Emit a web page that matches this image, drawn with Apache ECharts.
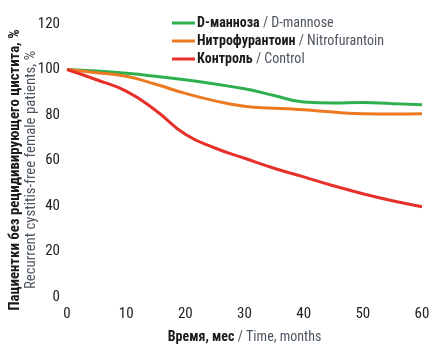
<!DOCTYPE html>
<html><head><meta charset="utf-8">
<script src="https://cdn.jsdelivr.net/npm/echarts@6/dist/echarts.min.js"></script>
<style>html,body{margin:0;padding:0;background:#fff}#c{width:436px;height:349px}</style>
</head><body><div id="c"></div>
<script>
var months = [0, 5, 10, 15, 20, 25, 30, 35, 40, 45, 50, 55, 60];
var dMannose = [100, 99.3, 98.3, 97, 95.5, 93.6, 91.5, 88.6, 85.7, 85.3, 85.5, 85.0, 84.5];
var nitrofurantoin = [100, 98.6, 97, 93.5, 89.5, 86.2, 83.8, 83.0, 82.3, 81.3, 80.5, 80.4, 80.5];
var control = [100, 95.5, 90.5, 82, 71.5, 65.5, 61, 56.6, 52.8, 48.9, 45.4, 42.3, 39.7];
var seriesNames = [
  ['D-манноза', 'D-mannose'],
  ['Нитрофурантоин', 'Nitrofurantoin'],
  ['Контроль', 'Control']
];
var colors = ['#2eb04f', '#ec7a22', '#e8302a'];
var yTicks = [0, 20, 40, 60, 80, 100, 120];
var xTicks = [0, 10, 20, 30, 40, 50, 60];
var yTitleRu = 'Пациентки без рецидивирующего цистита, %';
var yTitleEn = 'Recurrent cystitis-free female patients, %';
var xTitleRu = 'Время, мес';
var xTitleEn = 'Time, months';

var FONT = "'Liberation Sans Narrow', 'Roboto Condensed', 'Liberation Sans', sans-serif";
var chart = echarts.init(document.getElementById('c'));
function pairs(vals){ return months.map(function(m,i){ return [m, vals[i]]; }); }
var dataSets = [dMannose, nitrofurantoin, control];
var rich = {
  b: {fontFamily: FONT, fontSize: 14, fontWeight: 'bold', color: '#1a1a1a'},
  n: {fontFamily: FONT, fontSize: 14, color: '#4d5560'}
};
chart.setOption({
  animation: false,
  color: colors,
  grid: {left: 67, right: 14, top: 24, bottom: 47, containLabel: false},
  legend: {
    orient: 'vertical', left: 167, top: 11, itemGap: 4, itemWidth: 23, itemHeight: 3,
    icon: 'rect',
    data: seriesNames.map(function(n){ return n[0] + ' / ' + n[1]; }),
    formatter: function(name){ var p = name.split(' / '); return '{b|' + p[0] + '}{n| / ' + p[1] + '}'; },
    textStyle: {fontFamily: FONT, fontSize: 14, padding: [0,0,0,-3], rich: rich}
  },
  xAxis: {
    type: 'value', min: 0, max: 60, interval: 10,
    axisLine: {show: false}, axisTick: {show: false}, splitLine: {show: false},
    axisLabel: {fontFamily: FONT, fontSize: 15, color: '#222', margin: 10},
    name: '{b|' + xTitleRu + '}{n| / ' + xTitleEn + '}',
    nameLocation: 'middle', nameGap: 33,
    nameTextStyle: {rich: rich}
  },
  yAxis: {
    type: 'value', min: 0, max: 120, interval: 20,
    axisLine: {show: false}, axisTick: {show: false}, splitLine: {show: false},
    axisLabel: {fontFamily: FONT, fontSize: 15, color: '#222', margin: 7}
  },
  graphic: [
    {type: 'text', x: 15, y: 170, rotation: Math.PI/2,
     style: {text: yTitleRu, fontFamily: FONT, fontSize: 14.8, fontWeight: 'bold', fill: '#1a1a1a', align: 'center', verticalAlign: 'middle'}},
    {type: 'text', x: 31, y: 170, rotation: Math.PI/2,
     style: {text: yTitleEn, fontFamily: FONT, fontSize: 14.8, fill: '#4d5560', align: 'center', verticalAlign: 'middle'}}
  ],
  series: dataSets.map(function(d, i){
    return {
      name: seriesNames[i][0] + ' / ' + seriesNames[i][1],
      type: 'line', smooth: 0.5, showSymbol: false, symbol: 'none',
      lineStyle: {width: 3, color: colors[i]},
      itemStyle: {color: colors[i]},
      data: pairs(d)
    };
  })
});
</script></body></html>
